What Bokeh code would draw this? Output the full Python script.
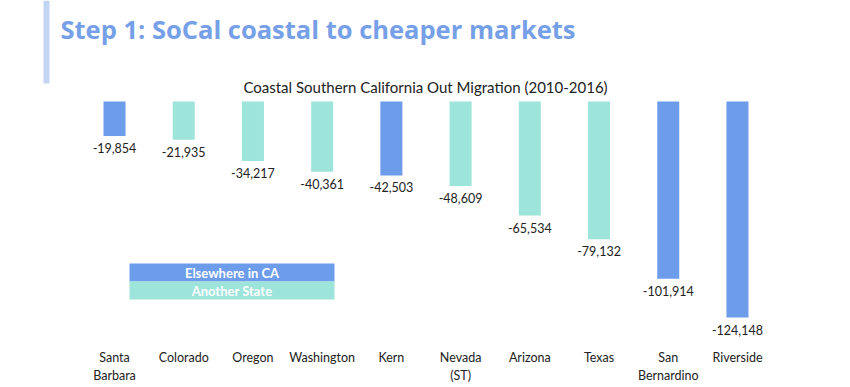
from bokeh.plotting import figure
from bokeh.models import Range1d, ColumnDataSource
from bokeh.core.properties import value
from bokeh.embed import file_html
from bokeh.resources import INLINE

categories = ["Santa\nBarbara", "Colorado", "Oregon", "Washington", "Kern",
              "Nevada\n(ST)", "Arizona", "Texas", "San\nBernardino", "Riverside"]
migration = [-19854, -21935, -34217, -40361, -42503, -48609, -65534, -79132, -101914, -124148]
kind = ["Elsewhere in CA", "Another State", "Another State", "Another State", "Elsewhere in CA",
        "Another State", "Another State", "Another State", "Elsewhere in CA", "Elsewhere in CA"]
legend_labels = ["Elsewhere in CA", "Another State"]
legend_colors = ["#6d9ceb", "#9de4da"]
title_text = "Step 1: SoCal coastal to cheaper markets"
subtitle_text = "Coastal Southern California Out Migration (2010-2016)"

W, H = 850, 387
FONT = "Lato"
color_map = dict(zip(legend_labels, legend_colors))

idx = list(range(len(categories)))
src = ColumnDataSource(dict(
    x=idx, v=migration, cat=categories,
    lab=[f"{m:,}" for m in migration],
    col=[color_map[k] for k in kind],
))

p = figure(width=W, height=H, output_backend="svg", toolbar_location=None,
           x_range=Range1d(-1.647, 10.633), y_range=Range1d(-164364, 58045),
           min_border=0)
p.xaxis.visible = False
p.yaxis.visible = False
p.grid.visible = False
p.outline_line_color = None
p.extra_x_ranges = {"px": Range1d(0, W)}
p.extra_y_ranges = {"px": Range1d(H, 0)}

# bars
p.vbar(x="x", top=0, bottom="v", width=0.318, fill_color="col", line_color=None, source=src)
p.text(x="x", y="v", text="lab", source=src, text_align="center", text_baseline="top",
       y_offset=7, text_font=value(FONT), text_font_size="12.5px", text_color="#222222")

# category labels
p.text(x="x", y=349, y_range_name="px", text="cat", source=src, text_align="center",
       text_baseline="top", text_font=value(FONT), text_font_size="12.5px",
       text_color="#222222", text_line_height=1.2)

# title decorations
p.quad(left=[43], right=[49], top=[0], bottom=[83], x_range_name="px", y_range_name="px",
       fill_color="#c3d5f3", line_color=None)
p.text(x=[60], y=[28], text=[title_text], x_range_name="px", y_range_name="px",
       text_baseline="alphabetic", text_font=value("Open Sans"), text_font_style="bold",
       text_font_size="25.5px", text_color="#75a0e8")
p.text(x=[425], y=[86], text=[subtitle_text], x_range_name="px", y_range_name="px",
       text_align="center", text_baseline="middle", text_font=value(FONT),
       text_font_size="15px", text_color="#222222")

# legend
ly = [263, 281]
for i, (lab, c) in enumerate(zip(legend_labels, legend_colors)):
    p.quad(left=[129], right=[334], top=[ly[i]], bottom=[ly[i] + 18], x_range_name="px",
           y_range_name="px", fill_color=c, line_color=None)
    p.text(x=[231.5], y=[ly[i] + 9], text=[lab], x_range_name="px", y_range_name="px",
           text_align="center", text_baseline="middle", text_font=value(FONT),
           text_font_style="bold", text_font_size="13px", text_color="white")

open("out.html", "w").write(file_html(p, INLINE))
